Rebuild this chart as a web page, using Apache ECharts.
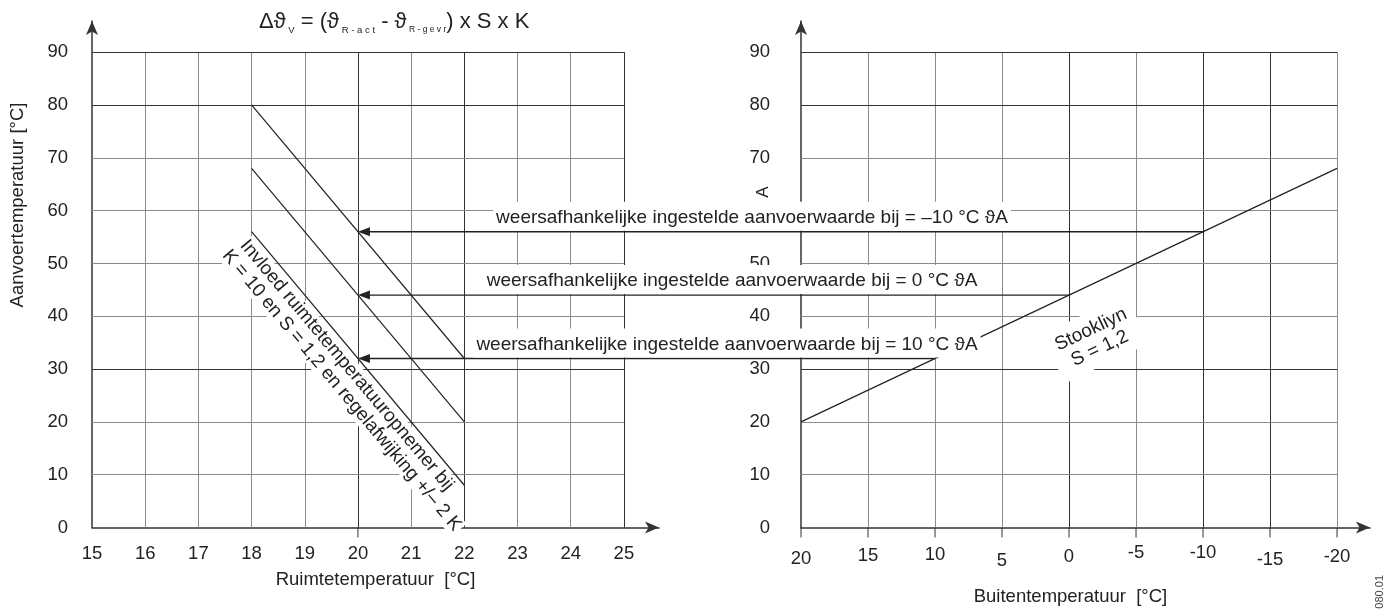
<!DOCTYPE html>
<html>
<head>
<meta charset="utf-8">
<script src="https://cdn.jsdelivr.net/npm/echarts@6/dist/echarts.min.js"></script>
<style>
  html, body { margin: 0; padding: 0; background: #fff; }
  #chart { width: 1387px; height: 609px; }
</style>
</head>
<body>
<div id="chart"></div>
<script>
// axes
const roomTicks = [15, 16, 17, 18, 19, 20, 21, 22, 23, 24, 25];
const outdoorTicks = [20, 15, 10, 5, 0, -5, -10, -15, -20];
const flowTicks = [0, 10, 20, 30, 40, 50, 60, 70, 80, 90];

// room sensor influence, K = 10 and S = 1,2 (room temp 18 -> 22)
const roomRange = [18, 22];
const influenceTop = [80, 32];
const influenceMid = [68, 20];
const influenceLow = [56, 8];

// heating curve S = 1,2
const curveOutdoor = [20, -20];
const curveFlow = [20, 68];

// weather compensated setpoints, carried over to room temp 20
const setpointOutdoor = [-10, 0, 10];
const setpointFlow = [56, 44, 32];
const setpointRoom = 20;
const setpointLabels = [
  'weersafhankelijke ingestelde aanvoerwaarde bij = –10 °C ϑA',
  'weersafhankelijke ingestelde aanvoerwaarde bij = 0 °C ϑA',
  'weersafhankelijke ingestelde aanvoerwaarde bij = 10 °C ϑA'
];

const FONT = '"Liberation Sans", Arial, sans-serif';
const INK = '#222';
const AXIS = '#333';
const GRID_LIGHT = '#8a8a8a';
const GRID_DARK = '#333';

const chart = echarts.init(document.getElementById('chart'));

// grid lines as markLines, so they stop at 90 and at the last tick
function gridLines(xs, xFrom, xTo, darkX, darkY) {
  const out = [];
  xs.forEach(v => {
    if (v === xFrom) return;
    out.push([{ coord: [v, 0], lineStyle: { color: darkX.includes(v) ? GRID_DARK : GRID_LIGHT } }, { coord: [v, 90] }]);
  });
  flowTicks.forEach(v => {
    if (v === 0) return;
    out.push([{ coord: [xFrom, v], lineStyle: { color: darkY.includes(v) ? GRID_DARK : GRID_LIGHT } }, { coord: [xTo, v] }]);
  });
  return out;
}

function gridSeries(idx, data) {
  return {
    type: 'line', xAxisIndex: idx, yAxisIndex: idx, data: [], silent: true, z: 1,
    markLine: {
      silent: true, animation: false, symbol: ['none', 'none'],
      label: { show: false }, emphasis: { disabled: true },
      lineStyle: { type: 'solid', width: 1 },
      data: data
    }
  };
}

function lineSeries(idx, xs, ys) {
  return {
    type: 'line', xAxisIndex: idx, yAxisIndex: idx, silent: true, z: 5,
    symbol: 'none', animation: false,
    lineStyle: { color: INK, width: 1.2 },
    data: xs.map((x, i) => [x, ys[i]])
  };
}

const labelStyle = { fontFamily: FONT, fontSize: 18.5, color: INK };
const noteFont = { fontFamily: FONT, fontSize: 19 };

const axisLine = { show: true, onZero: false, symbol: ['none', 'arrow'], symbolSize: [9, 14], lineStyle: { color: AXIS, width: 1.5 } };

function yAxis(idx, margin) {
  return {
    gridIndex: idx, type: 'value', min: 0, max: 95.9, interval: 10,
    axisLine: axisLine,
    axisTick: { show: false }, splitLine: { show: false },
    axisLabel: Object.assign({ margin: margin, formatter: v => flowTicks.includes(v) ? String(v) : '' }, labelStyle)
  };
}

const option = {
  animation: false,
  backgroundColor: '#fff',
  title: {
    left: 254, top: 3,
    text: '{m|Δϑ}{s| V}{m| = (ϑ}{s| R - a c t}{m| - ϑ}{t| R - g e v r}{m|) x S x K}',
    textStyle: {
      fontWeight: 'normal',
      rich: {
        m: { fontFamily: FONT, fontSize: 22, fontWeight: 'normal', color: INK },
        s: { fontFamily: FONT, fontSize: 9.5, fontWeight: 'normal', color: INK, padding: [17, 0, 0, 0] },
        t: { fontFamily: FONT, fontSize: 8.5, fontWeight: 'normal', color: INK, padding: [17, 0, 0, 0] }
      }
    }
  },
  grid: [
    { left: 92, top: 21, width: 567, bottom: 81.5, outerBoundsMode: 'none' },
    { left: 801, top: 21, width: 569, bottom: 81.5, outerBoundsMode: 'none' }
  ],
  xAxis: [
    {
      gridIndex: 0, type: 'value', min: 15, max: 25.66, interval: 1,
      axisLine: axisLine,
      axisTick: { show: false }, splitLine: { show: false },
      axisLabel: Object.assign({ margin: 17, formatter: v => roomTicks.includes(v) ? String(v) : '' }, labelStyle),
      name: 'Ruimtetemperatuur  [°C]', nameLocation: 'middle', nameGap: 43,
      nameTextStyle: labelStyle
    },
    {
      gridIndex: 1, type: 'value', min: -22.46, max: 20, inverse: true,
      axisLine: axisLine,
      axisTick: { show: false }, splitLine: { show: false }, axisLabel: { show: false },
      name: 'Buitentemperatuur  [°C]', nameLocation: 'middle', nameGap: 60,
      nameTextStyle: Object.assign({ padding: [0, 30, 0, 0] }, labelStyle)
    }
  ],
  yAxis: [yAxis(0, 24), yAxis(1, 31)],
  series: [
    gridSeries(0, gridLines(roomTicks, 15, 25, [20, 22, 25], [90, 80, 30])),
    gridSeries(1, gridLines(outdoorTicks, 20, -20, [0, -10, -15], [90, 80, 30])),
    lineSeries(0, roomRange, influenceTop),
    lineSeries(0, roomRange, influenceMid),
    lineSeries(0, roomRange, influenceLow),
    lineSeries(1, curveOutdoor, curveFlow)
  ]
};

chart.setOption(option);

// annotations placed through the axes' own pixel mapping
const px = (g, pt) => chart.convertToPixel({ gridIndex: g }, pt);
const graphics = [];

// arrows from heating curve to the room temperature 20 line
const labelCenterX = [752, 732, 727];
setpointFlow.forEach((flow, i) => {
  const a = px(1, [setpointOutdoor[i], flow]);
  const b = px(0, [setpointRoom, flow]);
  graphics.push({
    type: 'line', z: 20, silent: true,
    shape: { x1: a[0], y1: a[1], x2: b[0] + 10, y2: b[1] },
    style: { stroke: INK, lineWidth: 1.3 }
  });
  graphics.push({
    type: 'polygon', z: 20, silent: true,
    shape: { points: [[b[0], b[1]], [b[0] + 12, b[1] - 4.5], [b[0] + 12, b[1] + 4.5]] },
    style: { fill: INK }
  });
  graphics.push({
    type: 'text', z: 30, silent: true, x: labelCenterX[i], y: b[1] - 1,
    style: Object.assign({
      text: setpointLabels[i], align: 'center', verticalAlign: 'bottom',
      fill: INK, backgroundColor: '#fff', padding: [6, 3, 3, 3], lineHeight: 20
    }, noteFont)
  });
});

// outdoor axis labels and ticks (label heights vary in the print)
const outdoorNudge = [3, 0, -1, 5, 1, -3, -3, 4, 1];
outdoorTicks.forEach((v, i) => {
  const p = px(1, [v, 0]);
  graphics.push({
    type: 'line', z: 20, silent: true,
    shape: { x1: p[0], y1: p[1], x2: p[0], y2: p[1] + 10 },
    style: { stroke: AXIS, lineWidth: 1 }
  });
  graphics.push({
    type: 'text', z: 20, silent: true, x: p[0], y: p[1] + 28 + outdoorNudge[i],
    style: { text: String(v), align: 'center', verticalAlign: 'middle', fill: INK, fontFamily: FONT, fontSize: 18.5 }
  });
});

// tick under room temp 20
const t20 = px(0, [setpointRoom, 0]);
graphics.push({
  type: 'line', z: 20, silent: true,
  shape: { x1: t20[0], y1: t20[1], x2: t20[0], y2: t20[1] + 10 },
  style: { stroke: AXIS, lineWidth: 1 }
});

// rotated note along the lowest influence line
const la = px(0, [roomRange[0], influenceLow[0]]);
const lb = px(0, [roomRange[1], influenceLow[1]]);
const ang = Math.atan2(lb[1] - la[1], lb[0] - la[0]);
const mid = [(la[0] + lb[0]) / 2, (la[1] + lb[1]) / 2];
const d = [Math.cos(ang), Math.sin(ang)];
const n = [-Math.sin(ang), Math.cos(ang)];
[
  ['Invloed ruimtetemperatuuropnemer bij', -2, 13],
  ['K = 10 en S = 1,2 en regelafwijking +/– 2 K', 14, 33]
].forEach(([txt, along, perp]) => {
  graphics.push({
    type: 'text', z: 30, silent: true,
    x: mid[0] + d[0] * along + n[0] * perp,
    y: mid[1] + d[1] * along + n[1] * perp,
    rotation: -ang,
    style: Object.assign({
      text: txt, align: 'center', verticalAlign: 'middle', fill: INK,
      lineHeight: 20, backgroundColor: '#fff', padding: [0, 2]
    }, noteFont)
  });
});

// heating curve label
const ca = px(1, [curveOutdoor[0], curveFlow[0]]);
const cb = px(1, [curveOutdoor[1], curveFlow[1]]);
const cang = Math.atan2(cb[1] - ca[1], cb[0] - ca[0]);
const cmid = [(ca[0] + cb[0]) / 2, (ca[1] + cb[1]) / 2];
const cd = [Math.cos(cang), Math.sin(cang)];
const cn = [-Math.sin(cang), Math.cos(cang)];
graphics.push({
  type: 'text', z: 30, silent: true,
  x: cmid[0] + cd[0] * 5 + cn[0] * 51,
  y: cmid[1] + cd[1] * 5 + cn[1] * 51,
  rotation: -cang,
  style: Object.assign({
    text: 'Stookliyn\nS = 1,2', align: 'center', verticalAlign: 'middle', fill: INK,
    lineHeight: 21, backgroundColor: '#fff', padding: [6, 8]
  }, noteFont)
});

// y axis name, loose glyph and drawing number
graphics.push({
  type: 'text', z: 20, silent: true, x: 18, y: 205, rotation: Math.PI / 2,
  style: Object.assign({ text: 'Aanvoertemperatuur [°C]', align: 'center', verticalAlign: 'middle' }, labelStyle, { fill: INK })
});
graphics.push({
  type: 'text', z: 20, silent: true, x: 763, y: 192, rotation: Math.PI / 2,
  style: { text: 'A', align: 'center', verticalAlign: 'middle', fill: INK, fontFamily: FONT, fontSize: 17 }
});
graphics.push({
  type: 'text', z: 20, silent: true, x: 1380, y: 575, rotation: Math.PI / 2,
  style: { text: '6 720 612 080.01', align: 'right', verticalAlign: 'middle', fill: '#444', fontFamily: FONT, fontSize: 11 }
});

chart.setOption({ graphic: { elements: graphics } });
</script>
</body>
</html>
